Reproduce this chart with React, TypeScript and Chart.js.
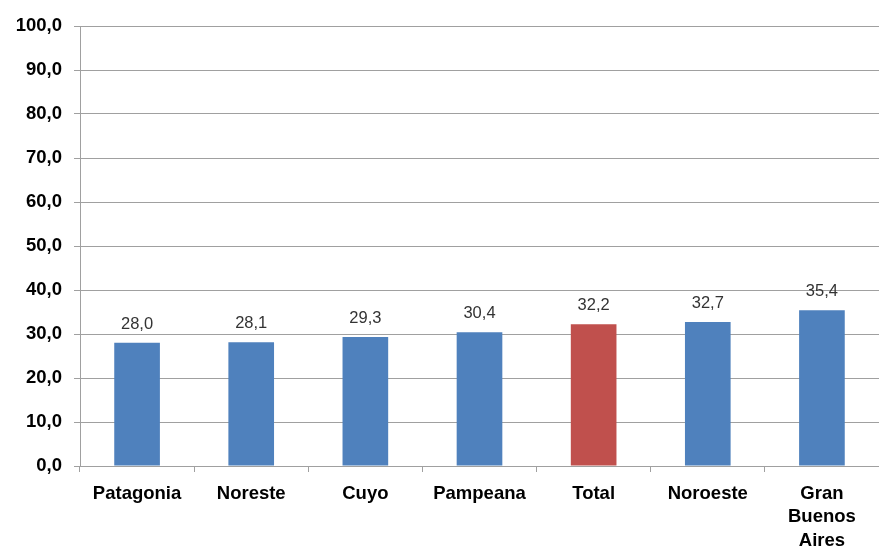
import React, { useEffect, useRef } from "react";
import { Chart, registerables } from "chart.js";

Chart.register(...registerables);

const categories: (string | string[])[] = [
  "Patagonia",
  "Noreste",
  "Cuyo",
  "Pampeana",
  "Total",
  "Noroeste",
  ["Gran", "Buenos", "Aires"],
];
const values: number[] = [28.0, 28.1, 29.3, 30.4, 32.2, 32.7, 35.4];
const barColors: string[] = ["#4F81BD", "#4F81BD", "#4F81BD", "#4F81BD", "#C0504D", "#4F81BD", "#4F81BD"];
const yMin = 0;
const yMax = 100;
const yStep = 10;

const fmt = (v: number) => v.toFixed(1).replace(".", ",");

const labelPlugin = {
  id: "barLabels",
  afterDatasetsDraw(chart: any) {
    const ctx = chart.ctx;
    const meta = chart.getDatasetMeta(0);
    ctx.save();
    ctx.font = "16.5px 'Liberation Sans', Arial, sans-serif";
    ctx.fillStyle = "#333333";
    ctx.textAlign = "center";
    ctx.textBaseline = "alphabetic";
    meta.data.forEach((el: any, i: number) => {
      ctx.fillText(fmt(values[i]), el.x, el.y - 14);
    });
    ctx.restore();
  },
};

export default function App() {
  const ref = useRef<HTMLCanvasElement | null>(null);
  useEffect(() => {
    if (!ref.current) return;
    const gridColor = "#a0a0a0";
    const chart = new Chart(ref.current, {
      type: "bar",
      data: {
        labels: categories,
        datasets: [
          {
            data: values,
            backgroundColor: barColors,
            barPercentage: 0.4,
            categoryPercentage: 1.0,
          },
        ],
      },
      options: {
        responsive: false,
        animation: false,
        layout: { padding: { top: 26, right: 0, bottom: 0, left: 0 } },
        plugins: { legend: { display: false }, tooltip: { enabled: false } },
        scales: {
          x: {
            grid: {
              display: true,
              drawOnChartArea: false,
              drawTicks: true,
              tickLength: 6,
              offset: true,
              color: gridColor,
            },
            border: { display: true, color: gridColor, width: 1 },
            ticks: {
              color: "#000000",
              padding: 10,
              maxRotation: 0,
              autoSkip: false,
              font: { family: "'Liberation Sans', Arial, sans-serif", size: 18.5, weight: "bold", lineHeight: 1.27 },
            },
            afterFit: (scale: any) => {
              scale.height = 81;
            },
          },
          y: {
            min: yMin,
            max: yMax,
            grid: { color: gridColor, tickLength: 6, drawTicks: true },
            border: { display: true, color: gridColor, width: 1 },
            ticks: {
              stepSize: yStep,
              color: "#000000",
              padding: 12,
              callback: (v: any) => fmt(Number(v)),
              font: { family: "'Liberation Sans', Arial, sans-serif", size: 18.5, weight: "bold" },
            },
            afterFit: (scale: any) => {
              scale.width = 80;
            },
          },
        },
      },
      plugins: [labelPlugin],
    });
    return () => chart.destroy();
  }, []);
  return (
    <div style={{ position: "fixed", left: 0, top: 0, width: 879, height: 547, background: "#fff" }}>
      <canvas ref={ref} width={879} height={547} />
    </div>
  );
}
